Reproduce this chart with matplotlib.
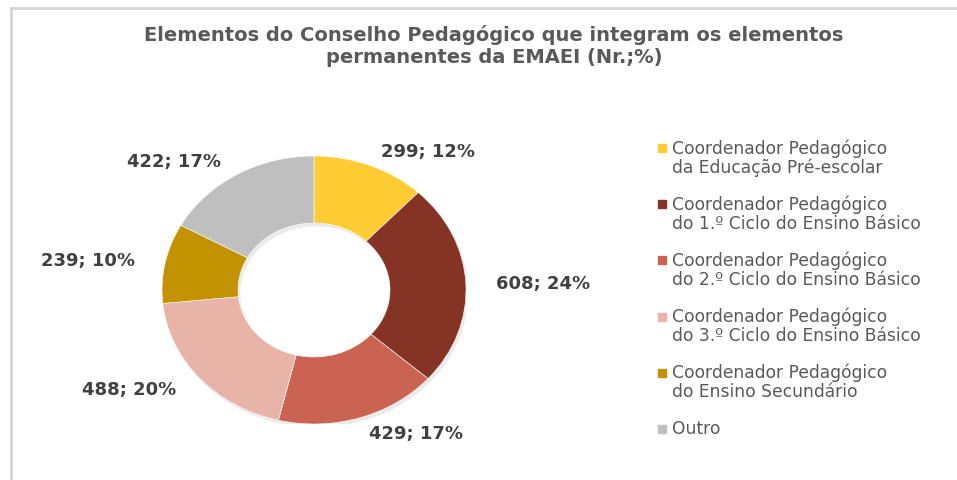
import numpy as np
import matplotlib.pyplot as plt
from matplotlib.patches import Rectangle, Wedge
from matplotlib.lines import Line2D

# data (clockwise from 12 o'clock)
labels = [
    "Coordenador Pedagógico\nda Educação Pré-escolar",
    "Coordenador Pedagógico\ndo 1.º Ciclo do Ensino Básico",
    "Coordenador Pedagógico\ndo 2.º Ciclo do Ensino Básico",
    "Coordenador Pedagógico\ndo 3.º Ciclo do Ensino Básico",
    "Coordenador Pedagógico\ndo Ensino Secundário",
    "Outro",
]
counts = [299, 608, 429, 488, 239, 422]
percents = [12, 24, 17, 20, 10, 17]
colors = ["#FFCC33", "#843324", "#CB6352", "#E8B4A8", "#C39200", "#BFBFBF"]

title = "Elementos do Conselho Pedagógico que integram os elementos\npermanentes da EMAEI (Nr.;%)"

W, H = 957, 481
fig = plt.figure(figsize=(W / 100, H / 100), dpi=100)
fig.patch.set_facecolor("white")

# thin grey frame on the top and left like the screenshot
fig.add_artist(Line2D([11 / W, 11 / W], [0, 1 - 9 / H], transform=fig.transFigure,
                      color="#D4D4D4", lw=2))
fig.add_artist(Line2D([11 / W, 1], [1 - 9 / H, 1 - 9 / H], transform=fig.transFigure,
                      color="#D4D4D4", lw=2))

fig.text(494 / W, 1 - 46 / H, title, ha="center", va="center", fontsize=14,
         fontweight="bold", color="#595959", linespacing=1.2)

# donut is a bit wider than tall in the reference
cx, cy, rx, ry = 314, 291, 152, 134
ax = fig.add_axes([(cx - rx) / W, 1 - (cy + ry) / H, 2 * rx / W, 2 * ry / H])

# soft drop shadow under the ring
ax.add_patch(Wedge((0.015, -0.025), 1.0, 0, 360, width=0.5, color="black",
                   alpha=0.08, lw=0, zorder=0))

wedges, _ = ax.pie(counts, colors=colors, startangle=90, counterclock=False,
                   wedgeprops=dict(width=0.5, edgecolor="white", linewidth=0.4))
ax.set_aspect("auto")
ax.set_xlim(-1, 1)
ax.set_ylim(-1, 1)

total = sum(counts)
start = 90.0
for n, p in zip(counts, percents):
    span = 360.0 * n / total
    mid = np.deg2rad(start - span / 2)
    start -= span
    x, y = 1.2 * np.cos(mid), 1.12 * np.sin(mid)
    ha = "left" if np.cos(mid) > 0.1 else ("right" if np.cos(mid) < -0.1 else "center")
    ax.text(x, y, f"{n}; {p}%", ha=ha, va="center", fontsize=13,
            fontweight="bold", color="#404040")

# legend, square aligned with the first line of each entry
for i, (lab, col) in enumerate(zip(labels, colors)):
    y0 = 149 + i * 56.2
    fig.add_artist(Rectangle((658 / W, 1 - (y0 + 4) / H), 8 / W, 8 / H,
                             transform=fig.transFigure, color=col))
    fig.text(672 / W, 1 - (y0 - 10) / H, lab, ha="left", va="top", fontsize=12.3,
             color="#595959", linespacing=1.08)

fig.savefig("out.png", dpi=100)
